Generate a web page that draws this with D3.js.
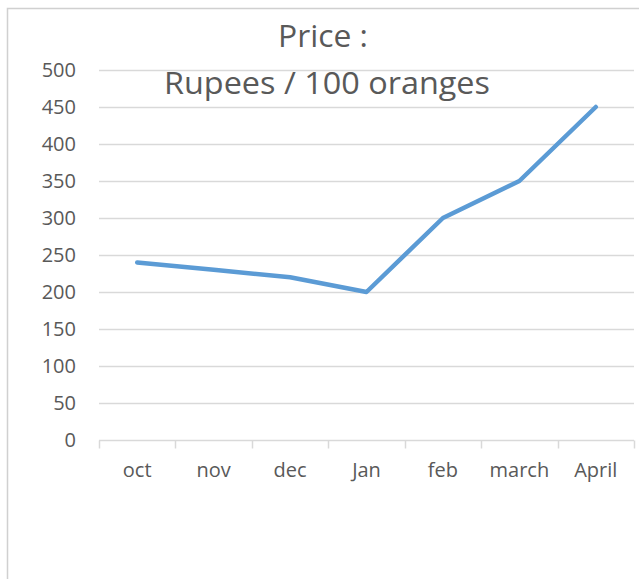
<!DOCTYPE html>
<html>
<head>
<meta charset="utf-8">
<script src="https://cdn.jsdelivr.net/npm/d3@7"></script>
<style>
  body { margin: 0; background: #fff; }
  svg { display: block; }
  .lbl { font-family: "Open Sans", sans-serif; fill: #595959; }
</style>
</head>
<body>
<div id="chart"></div>
<script>
(function() {
    var months = ["oct", "nov", "dec", "Jan", "feb", "march", "April"];
    var prices = [240, 230, 220, 200, 300, 350, 450];
    var yTicks = [0, 50, 100, 150, 200, 250, 300, 350, 400, 450, 500];
    var titleLines = ["Price :", "Rupees / 100 oranges"];

    var W = 639, H = 579;
    var plot = {left: 99, right: 634, top: 70, bottom: 440};

    var data = months.map(function(m, i) { return {month: m, price: prices[i]}; });

    var xScale = d3.scaleBand().domain(months).range([plot.left, plot.right]);
    var yScale = d3.scaleLinear().domain([0, 500]).range([plot.bottom, plot.top]);

    var svg = d3.select("#chart").append("svg")
        .attr("width", W)
        .attr("height", H);

    // chart frame (runs off the right and bottom edge)
    svg.append("rect")
        .attr("x", 7.5).attr("y", 8.5)
        .attr("width", W + 20).attr("height", H + 20)
        .attr("fill", "#fff")
        .attr("stroke", "#d0d0d0")
        .attr("stroke-width", 1.5);

    // gridlines
    svg.append("g")
        .selectAll("line")
        .data(yTicks.filter(function(d) { return d > 0; }))
        .enter().append("line")
        .attr("x1", plot.left).attr("x2", plot.right)
        .attr("y1", function(d) { return Math.round(yScale(d)) + 0.5; })
        .attr("y2", function(d) { return Math.round(yScale(d)) + 0.5; })
        .attr("stroke", "#d9d9d9")
        .attr("stroke-width", 1.5);

    // y labels
    svg.append("g")
        .selectAll("text")
        .data(yTicks)
        .enter().append("text")
        .attr("class", "lbl")
        .attr("x", 76)
        .attr("y", function(d) { return yScale(d); })
        .attr("dy", "0.35em")
        .attr("text-anchor", "end")
        .style("font-size", "20px")
        .text(function(d) { return d; });

    // x axis line + ticks between categories
    var base = Math.round(yScale(0)) + 0.5;
    svg.append("line")
        .attr("x1", plot.left).attr("x2", plot.right)
        .attr("y1", base).attr("y2", base)
        .attr("stroke", "#d9d9d9").attr("stroke-width", 1.5);

    var tickXs = months.map(function(m) { return xScale(m); }).concat([plot.right]);
    svg.append("g")
        .selectAll("line")
        .data(tickXs)
        .enter().append("line")
        .attr("x1", function(d) { return Math.round(d) + 0.5; })
        .attr("x2", function(d) { return Math.round(d) + 0.5; })
        .attr("y1", base).attr("y2", base + 8)
        .attr("stroke", "#d9d9d9").attr("stroke-width", 1.5);

    svg.append("g")
        .selectAll("text")
        .data(months)
        .enter().append("text")
        .attr("class", "lbl")
        .attr("x", function(d) { return xScale(d) + xScale.bandwidth() / 2; })
        .attr("y", 477)
        .attr("text-anchor", "middle")
        .style("font-size", "20px")
        .text(function(d) { return d; });

    // title, fitted to the width of the original lettering
    svg.append("text")
        .attr("class", "lbl")
        .attr("x", 323).attr("y", 47)
        .attr("text-anchor", "middle")
        .attr("textLength", 90)
        .attr("lengthAdjust", "spacingAndGlyphs")
        .style("font-size", "31px")
        .text(titleLines[0]);
    svg.append("text")
        .attr("class", "lbl")
        .attr("x", 327).attr("y", 94)
        .attr("text-anchor", "middle")
        .attr("textLength", 326)
        .attr("lengthAdjust", "spacingAndGlyphs")
        .style("font-size", "31px")
        .text(titleLines[1]);

    // line
    var line = d3.line()
        .x(function(d) { return xScale(d.month) + xScale.bandwidth() / 2; })
        .y(function(d) { return yScale(d.price); });

    svg.append("path")
        .datum(data)
        .attr("d", line)
        .attr("fill", "none")
        .attr("stroke", "#5b9bd5")
        .attr("stroke-width", 4.5)
        .attr("stroke-linecap", "round")
        .attr("stroke-linejoin", "round");
})();
</script>
</body>
</html>
